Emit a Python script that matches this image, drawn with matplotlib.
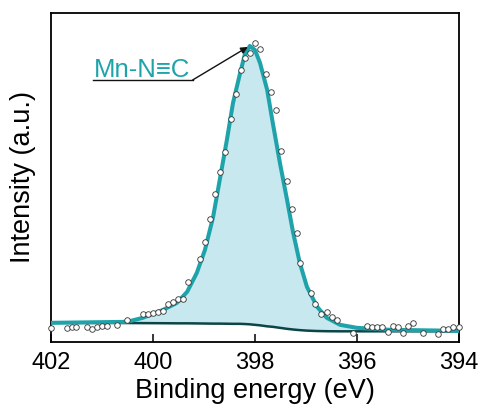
import matplotlib.pyplot as plt

plt.rcParams['font.family'] = ['Liberation Sans', 'DejaVu Sans']

# measured points (binding energy, intensity in a.u.)
data_energy = [402.00, 401.69, 401.59, 401.51, 401.29, 401.20, 401.10, 401.00, 400.90,
               400.71, 400.51, 400.20, 400.10, 400.00, 399.90, 399.80, 399.71, 399.61,
               399.51, 399.41, 399.31, 399.08, 398.98, 398.88, 398.78, 398.69, 398.59,
               398.47, 398.37, 398.27, 398.20, 398.10, 398.00, 397.90, 397.78, 397.69,
               397.59, 397.49, 397.37, 397.27, 397.18, 397.12, 396.90, 396.82, 396.71,
               396.59, 396.49, 396.39, 396.08, 395.80, 395.71, 395.61, 395.51, 395.39,
               395.29, 395.20, 395.10, 395.00, 394.90, 394.71, 394.41, 394.31, 394.22,
               394.12, 394.00]
data_int = [14, 14, 15, 15, 15, 13, 15, 16, 16,
            17, 22, 28, 28, 29, 30, 31, 38, 40,
            43, 43, 60, 83, 100, 123, 148, 170, 190,
            223, 248, 272, 284, 289, 299, 293, 268, 250,
            232, 191, 161, 133, 109, 79, 49, 38, 28,
            30, 25, 22, 9, 16, 15, 15, 15, 10,
            16, 15, 9, 16, 19, 9, 8, 13, 13,
            15, 15]

# fitted envelope and background
fit_energy = [402.00, 400.51, 400.20, 399.80, 399.53, 399.33, 399.14, 398.98, 398.82,
              398.69, 398.55, 398.43, 398.29, 398.20, 398.10, 398.00, 397.90, 397.76,
              397.65, 397.51, 397.37, 397.25, 397.12, 396.98, 396.78, 396.59, 396.33,
              396.00, 395.35, 394.00]
fit_int = [19, 20, 24, 32, 39, 50, 69, 92, 125,
           162, 202, 239, 269, 287, 296, 292, 279, 252,
           219, 179, 142, 109, 79, 55, 35, 24, 17,
           14, 12, 11]
bg_int = [19, 18.8, 18.7, 18.6, 18.5, 18.5, 18.4, 18.3, 18.2,
          18.2, 18.1, 18.0, 18.0, 17.8, 17.5, 17.0, 16.5, 15.5,
          15.0, 14.0, 13.0, 12.3, 11.7, 11.2, 10.8, 10.6, 10.5,
          10.5, 10.5, 10.5]

peak_label = 'Mn-N\u2261C'
teal = '#1fa3ab'

fig = plt.figure(figsize=(4.81, 4.05), dpi=100)
ax = fig.add_axes([0.106, 0.156, 0.848, 0.812])

ax.fill_between(fit_energy, bg_int, fit_int, color='#c6e8ee', lw=0, zorder=1)
ax.plot(fit_energy, bg_int, color='#0c4547', lw=1.8, zorder=2)
ax.plot(fit_energy, fit_int, color=teal, lw=2.9, zorder=3)
ax.plot(data_energy, data_int, 'o', ms=4, mfc='white', mec='#333333', mew=0.6,
        zorder=4, clip_on=False)

# label with underline and arrow
ax.text(401.16, 265, peak_label, color=teal, fontsize=18.5, va='baseline', ha='left')
ax.plot([401.18, 399.22], [262, 262], color='#111111', lw=1.0)
ax.annotate('', xy=(398.14, 295), xytext=(399.22, 262),
            arrowprops=dict(arrowstyle='-|>', color='#111111', lw=1.0,
                            mutation_scale=10, shrinkA=0, shrinkB=0))

ax.set_xlim(402, 394)
ax.set_ylim(0, 329)
ax.set_xticks([402, 400, 398, 396, 394])
ax.set_yticks([])
ax.tick_params(axis='x', direction='in', length=6, width=1.1, labelsize=17, pad=7)
for s in ax.spines.values():
    s.set_linewidth(1.3)
ax.set_xlabel('Binding energy (eV)', fontsize=19.5, labelpad=3)
ax.set_ylabel('Intensity (a.u.)', fontsize=19.5, labelpad=11)

fig.savefig('out.png', dpi=100)
